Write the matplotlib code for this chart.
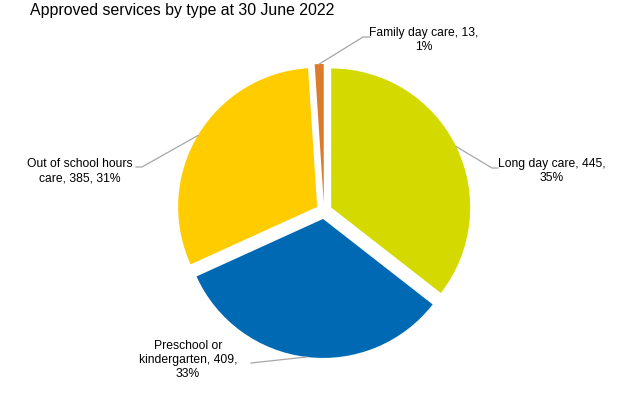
import numpy as np
import matplotlib.pyplot as plt

plt.rcParams['font.family'] = ['Liberation Sans', 'DejaVu Sans']

categories = ['Long day care', 'Preschool or\nkindergarten', 'Out of school hours\ncare', 'Family day care']
values = [445, 409, 385, 13]
percents = ['35%', '33%', '31%', '1%']
colours = ['#D4D900', '#0069B4', '#FFCC00', '#DC7B2B']

# label text positions (pixels, y up) and the elbow end of each leader line
label_text = ['Long day care, 445,\n35%',
              'Preschool or\nkindergarten, 409,\n33%',
              'Out of school hours\ncare, 385, 31%',
              'Family day care, 13,\n1%']
label_pos = [(552, 222), (188, 33), (80, 222), (424, 353)]
elbow = [((492, 225), (498, 225)), ((251, 30), (251, 30)),
         ((142, 226), (136, 226)), ((363, 356), (370, 356))]

W, H = 629, 393
cx, cy, R = 324, 182, 139

fig = plt.figure(figsize=(W / 100, H / 100), dpi=100)
ax = fig.add_axes([0, 0, 1, 1])

# explode is in data units here (pixels)
wedges, _ = ax.pie(values, colors=colours, startangle=90, counterclock=False,
                   explode=[8] * 4, radius=R, center=(cx, cy),
                   wedgeprops=dict(linewidth=0), frame=False)
ax.set_xlim(0, W)
ax.set_ylim(0, H)
ax.set_aspect('auto')
ax.axis('off')

for w, txt, pos, (e1, e2) in zip(wedges, label_text, label_pos, elbow):
    mid = np.deg2rad((w.theta1 + w.theta2) / 2)
    x0 = w.center[0] + w.r * np.cos(mid)
    y0 = w.center[1] + w.r * np.sin(mid)
    ax.plot([x0, e1[0], e2[0]], [y0, e1[1], e2[1]], color='#A6A6A6', lw=0.9)
    ax.text(pos[0], pos[1], txt, ha='center', va='center', fontsize=8.7, color='#000000',
            linespacing=1.25, multialignment='center')

fig.text(30 / W, 1 - 11 / H, 'Approved services by type at 30 June 2022',
         fontsize=11.4, ha='left', va='center', color='#000000')

fig.savefig('out.png', dpi=100)
